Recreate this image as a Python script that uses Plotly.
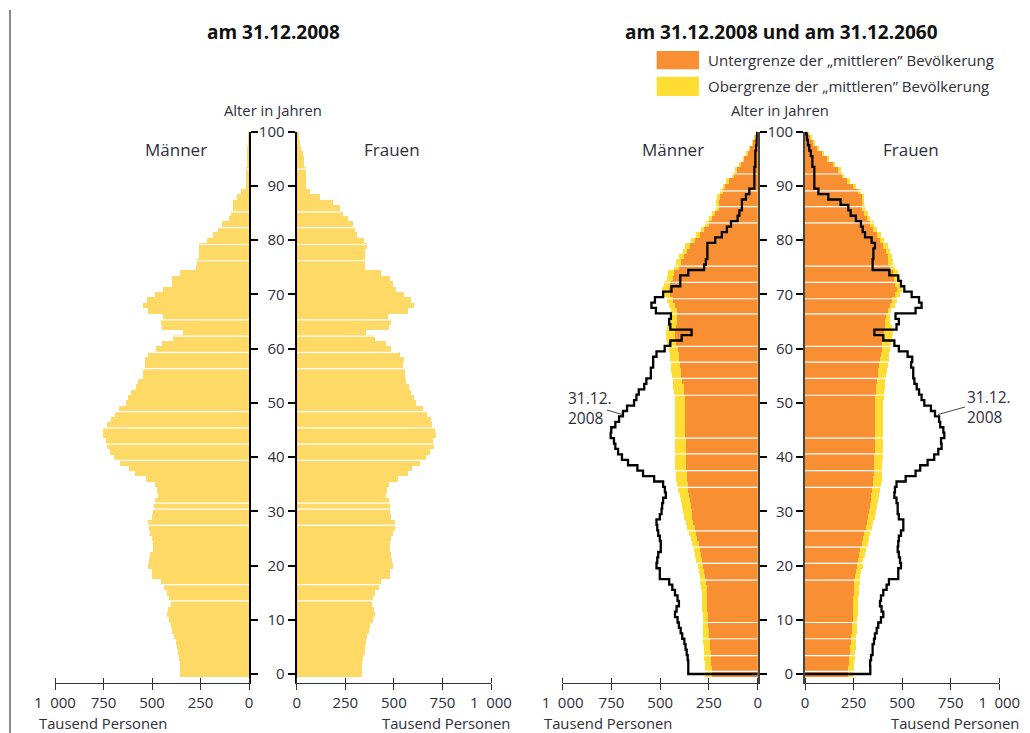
import plotly.graph_objects as go

# ---------------- data (thousand persons) ----------------
ages = list(range(0, 101))

men_2008 = [356, 356, 356, 359, 364, 370, 376, 387, 395, 404,
            411, 424, 416, 404, 411, 424, 438, 454, 502, 502,
            519, 515, 510, 497, 497, 502, 510, 515, 519, 502,
            493, 490, 485, 471, 476, 485, 531, 588, 617, 665,
            696, 716, 730, 737, 754, 751, 730, 711, 691, 670,
            634, 622, 610, 582, 571, 548, 548, 536, 536, 519,
            477, 448, 390, 339, 448, 454, 445, 522, 545, 527,
            485, 442, 397, 397, 356, 275, 266, 258, 258, 258,
            218, 184, 158, 137, 103, 94, 81, 81, 60, 43,
            17, 17, 17, 17, 12, 12, 12, 8, 5, 3,
            2]

women_2008 = [336, 336, 335, 340, 348, 348, 355, 360, 369, 377,
              391, 403, 394, 386, 391, 403, 420, 432, 480, 480,
              494, 489, 483, 477, 480, 483, 494, 506, 506, 483,
              477, 477, 471, 460, 463, 471, 518, 569, 593, 631,
              665, 686, 703, 700, 717, 712, 696, 690, 669, 648,
              614, 600, 587, 575, 563, 557, 557, 546, 552, 528,
              483, 460, 403, 357, 471, 483, 466, 569, 600, 587,
              549, 511, 494, 480, 434, 348, 348, 352, 352, 360,
              343, 309, 297, 288, 262, 235, 223, 183, 120, 69,
              48, 48, 48, 48, 38, 38, 30, 22, 15, 10,
              6]

# 2060, lower bound ("Untergrenze") and upper bound ("Obergrenze")
men_2060_low = [236, 238, 240, 241, 243, 245, 248, 250, 252, 254,
                256, 258, 259, 260, 261, 262, 263, 265, 270, 276,
                281, 286, 292, 298, 305, 313, 319, 325, 331, 336,
                340, 345, 350, 352, 358, 361, 363, 365, 367, 367,
                367, 368, 369, 371, 372, 373, 373, 373, 373, 373,
                374, 375, 378, 381, 388, 393, 396, 400, 405, 407,
                410, 418, 424, 424, 420, 415, 415, 417, 424, 435,
                453, 458, 449, 436, 430, 407, 395, 381, 364, 350,
                321, 299, 275, 253, 236, 219, 202, 202, 197, 179,
                167, 150, 121, 108, 87, 70, 53, 39, 26, 14,
                8]

men_2060_high = [270, 271, 273, 275, 277, 279, 280, 281, 282, 283,
                 283, 284, 285, 286, 287, 289, 292, 295, 300, 305,
                 309, 316, 322, 330, 338, 346, 355, 362, 370, 377,
                 384, 390, 396, 400, 410, 415, 418, 422, 425, 426,
                 427, 427, 426, 425, 424, 424, 424, 424, 424, 424,
                 426, 428, 432, 436, 438, 442, 444, 446, 450, 453,
                 456, 465, 470, 470, 466, 450, 446, 446, 455, 468,
                 487, 492, 483, 468, 460, 433, 420, 405, 387, 372,
                 342, 319, 294, 271, 253, 235, 217, 216, 211, 193,
                 180, 162, 132, 118, 96, 78, 60, 45, 31, 19,
                 12]

women_2060_low = [220, 222, 225, 227, 230, 233, 236, 239, 241, 243,
                  245, 246, 247, 248, 249, 250, 251, 253, 257, 262,
                  267, 272, 278, 285, 291, 298, 305, 312, 320, 325,
                  330, 335, 338, 341, 345, 349, 352, 354, 355, 355,
                  357, 358, 358, 360, 360, 360, 360, 360, 360, 360,
                  360, 361, 363, 366, 370, 374, 378, 382, 386, 390,
                  394, 398, 402, 405, 410, 412, 415, 425, 440, 450,
                  463, 472, 463, 460, 454, 437, 429, 429, 417, 403,
                  386, 369, 352, 334, 317, 304, 292, 292, 292, 271,
                  249, 218, 189, 172, 142, 111, 86, 60, 43, 26,
                  15]

women_2060_high = [249, 251, 254, 256, 258, 260, 262, 264, 266, 268,
                   270, 271, 272, 273, 274, 276, 278, 281, 285, 290,
                   296, 301, 308, 315, 322, 330, 337, 345, 352, 359,
                   366, 373, 378, 383, 388, 392, 398, 398, 398, 398,
                   401, 401, 401, 403, 403, 403, 403, 403, 403, 403,
                   403, 404, 406, 410, 414, 418, 423, 427, 430, 433,
                   437, 442, 450, 452, 448, 440, 438, 445, 462, 475,
                   490, 498, 492, 488, 480, 462, 452, 450, 440, 425,
                   408, 390, 373, 354, 336, 322, 308, 306, 306, 288,
                   265, 233, 203, 185, 154, 122, 96, 70, 52, 34,
                   22]

# ages where the printed bars show thin white seams
seams_2008 = [13.5, 16.5, 27.4, 30.4, 31.5, 39.4, 42.4, 45.4, 48.4, 56.3,
              59.3, 62.3, 65.3, 76.2, 79.2, 82.3, 85.2, 93.1]
seams_2060 = [0.5, 3.4, 6.5, 9.5, 17.3, 20.4, 23.4, 26.4, 34.4, 37.5, 40.6,
              43.5, 51.4, 54.5, 57.5, 60.4, 66.4, 69.2, 72.2, 75.2, 83.2,
              86.2, 89.1, 92.2]

x_ticks = [0, 250, 500, 750, 1000]
x_ticktext = ["0", "250", "500", "750", "1\u2002000"]
age_ticks = list(range(0, 101, 10))

# ---------------- styling ----------------
W, H = 1030, 733
FONT = "Open Sans"
TXT = "#2e2e3c"
C_2008 = "#FED966"
C_LOW = "#F88F33"
C_HIGH = "#FFDD33"


def px(x):
    return x / W


def py(y):
    return 1 - y / H


def seam_segments(vals, seams):
    xs, ys = [], []
    for g in seams:
        a = int(g)
        v = max(vals[a], vals[min(a + 1, len(vals) - 1)])
        xs += [0, v, None]
        ys += [g, g, None]
    return xs, ys


fig = go.Figure()


def bars(vals, color, xa, ya):
    fig.add_trace(go.Bar(x=vals, y=ages, orientation="h", width=1,
                         marker=dict(color=color, line=dict(width=0)),
                         xaxis=xa, yaxis=ya, hoverinfo="skip",
                         showlegend=False))


def seams(vals, seam_list, xa, ya):
    xs, ys = seam_segments(vals, seam_list)
    fig.add_trace(go.Scatter(x=xs, y=ys, mode="lines",
                             line=dict(color="white", width=1.2),
                             xaxis=xa, yaxis=ya, hoverinfo="skip",
                             showlegend=False))


def outline(vals, xa, ya):
    fig.add_trace(go.Scatter(x=[0] + vals, y=[0] + ages, mode="lines",
                             line=dict(color="black", width=2.3, shape="vhv"),
                             xaxis=xa, yaxis=ya, hoverinfo="skip",
                             showlegend=False))


# left panel: 2008
bars(men_2008, C_2008, "x", "y")
bars(women_2008, C_2008, "x2", "y2")
seams(men_2008, seams_2008, "x", "y")
seams(women_2008, seams_2008, "x2", "y2")

# right panel: 2060 ranges + 2008 outline
bars(men_2060_high, C_HIGH, "x3", "y3")
bars(men_2060_low, C_LOW, "x3", "y3")
bars(women_2060_high, C_HIGH, "x4", "y4")
bars(women_2060_low, C_LOW, "x4", "y4")
seams(men_2060_high, seams_2060, "x3", "y3")
seams(women_2060_high, seams_2060, "x4", "y4")
outline(men_2008, "x3", "y3")
outline(women_2008, "x4", "y4")

y_dom = [py(682.7), py(131.7)]
y_rng = [-1.6, 100]

# short upward tick marks so that the x ticks cross the axis line
minor_vals = [v + 0.01 for v in x_ticks]

xcommon = dict(tickvals=x_ticks, ticktext=x_ticktext, ticks="outside",
               ticklen=6, tickwidth=1.3, tickcolor="#333333",
               minor=dict(tickmode="array", tickvals=minor_vals, ticks="inside",
                          ticklen=5, tickwidth=1.3, tickcolor="#333333",
                          showgrid=False),
               showline=True, linecolor="#333333", linewidth=1.3,
               showgrid=False, zeroline=False, fixedrange=True,
               automargin=False,
               tickfont=dict(family=FONT, size=15, color=TXT))


def yax(anchor, side, labels, lcolor, lwidth):
    return dict(range=y_rng, domain=y_dom, anchor=anchor, side=side,
                tickvals=age_ticks, ticks="outside", ticklen=7,
                tickwidth=1.5, tickcolor="black", showticklabels=labels,
                tickfont=dict(family=FONT, size=15, color=TXT),
                showline=True, linecolor=lcolor, linewidth=lwidth,
                showgrid=False, zeroline=False, fixedrange=True,
                automargin=False)


fig.update_layout(
    width=W, height=H,
    margin=dict(l=0, r=0, t=0, b=0, pad=0, autoexpand=False),
    paper_bgcolor="white", plot_bgcolor="rgba(0,0,0,0)",
    barmode="overlay", bargap=0, showlegend=False,
    font=dict(family=FONT, color=TXT),
    xaxis=dict(domain=[px(55), px(249)], range=[1000, 0], anchor="y", **xcommon),
    xaxis2=dict(domain=[px(296.7), px(491)], range=[0, 1000], anchor="y2", **xcommon),
    xaxis3=dict(domain=[px(562.7), px(757.7)], range=[1000, 0], anchor="y3", **xcommon),
    xaxis4=dict(domain=[px(805), px(999.3)], range=[0, 1000], anchor="y4", **xcommon),
    yaxis=yax("x", "right", False, "black", 2.2),
    yaxis2=yax("x2", "left", True, "black", 2.2),
    yaxis3=yax("x3", "right", False, "#444444", 1.6),
    yaxis4=yax("x4", "left", True, "#444444", 1.6),
)

ann = []


def text(x, y, s, size=15, xanchor="center", bold=False, color=TXT, align="left"):
    ann.append(dict(x=px(x), y=py(y), xref="paper", yref="paper", text=s,
                    showarrow=False, xanchor=xanchor, yanchor="middle",
                    align=align,
                    font=dict(family=FONT, size=size, color=color,
                              weight="bold" if bold else "normal")))


text(273.5, 32, "am 31.12.2008", size=19, bold=True, color="#111111")
text(781, 32, "am 31.12.2008 und am 31.12.2060", size=19, bold=True, color="#111111")
text(272.5, 110, "Alter in Jahren", size=14.8)
text(780, 110, "Alter in Jahren", size=14.8)
text(176, 150, "Männer", size=17)
text(392, 149, "Frauen", size=17)
text(673, 150, "Männer", size=17)
text(911, 149, "Frauen", size=17)
text(37, 723, "Tausend Personen", size=14.8, xanchor="left")
text(512, 723, "Tausend Personen", size=14.8, xanchor="right")
text(542, 723, "Tausend Personen", size=14.8, xanchor="left")
text(1021, 723, "Tausend Personen", size=14.8, xanchor="right")
text(706, 60, "Untergrenze der „mittleren” Bevölkerung", size=15, xanchor="left")
text(706, 86, "Obergrenze der „mittleren” Bevölkerung", size=15, xanchor="left")
text(566, 408, "31.12.<br>2008", size=15.5, xanchor="left")
text(965, 407, "31.12.<br>2008", size=15.5, xanchor="left")

shapes = [
    dict(type="rect", xref="paper", yref="paper", x0=px(656.7), x1=px(699),
         y0=py(69.3), y1=py(51), fillcolor=C_LOW, line=dict(width=0)),
    dict(type="rect", xref="paper", yref="paper", x0=px(656.7), x1=px(699),
         y0=py(96), y1=py(76.7), fillcolor=C_HIGH, line=dict(width=0)),
    dict(type="line", xref="paper", yref="paper", x0=px(10), x1=px(10),
         y0=0, y1=py(10), line=dict(color="#6e6e6e", width=1.6)),
    dict(type="line", xref="paper", yref="paper", x0=px(607), x1=px(622),
         y0=py(410), y1=py(414.5), line=dict(color="#444444", width=1)),
    dict(type="line", xref="paper", yref="paper", x0=px(938), x1=px(965),
         y0=py(414.5), y1=py(407), line=dict(color="#444444", width=1)),
]

fig.update_layout(annotations=ann, shapes=shapes)
fig.write_html("out.html",
               config={"displayModeBar": False},
               post_script="document.body.style.margin='0';"
                           "document.body.style.overflow='hidden';")
